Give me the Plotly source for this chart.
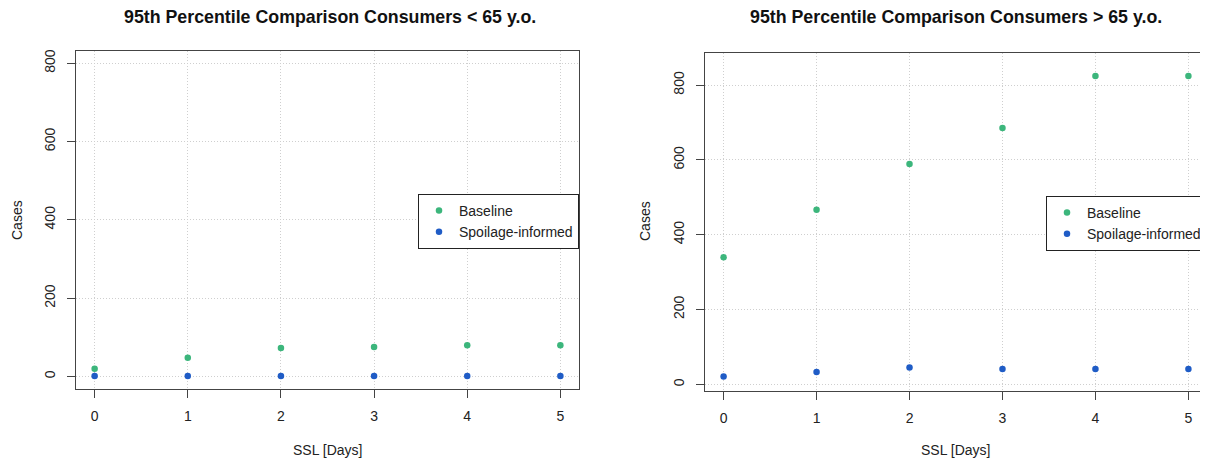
import plotly.graph_objects as go

# ---- data ----
ssl_days = [0, 1, 2, 3, 4, 5]
under65_baseline = [20, 48, 73, 75, 80, 80]
under65_spoilage = [1, 1, 1, 1, 1, 1]
over65_baseline = [340, 467, 589, 685, 824, 824]
over65_spoilage = [21, 33, 45, 41, 41, 41]
y_ticks = [0, 200, 400, 600, 800]
series_names = ["Baseline", "Spoilage-informed"]
titles = ["95th Percentile Comparison Consumers < 65 y.o.",
          "95th Percentile Comparison Consumers > 65 y.o."]

GREEN = "#3CB67C"
BLUE = "#1F5CC6"
FONT = "Liberation Sans, Arial, sans-serif"
OFF = 8  # page body margin of the html page
W, H = 1208 - OFF, 463 - OFF

fig = go.Figure()

def add_pair(xaxis, yaxis, base, spoil, legend):
    fig.add_trace(go.Scatter(x=ssl_days, y=base, mode="markers", name=series_names[0],
                             marker=dict(color=GREEN, size=6.5), xaxis=xaxis, yaxis=yaxis,
                             legend=legend))
    fig.add_trace(go.Scatter(x=ssl_days, y=spoil, mode="markers", name=series_names[1],
                             marker=dict(color=BLUE, size=6.5), xaxis=xaxis, yaxis=yaxis,
                             legend=legend))

add_pair("x", "y", under65_baseline, under65_spoilage, "legend")
add_pair("x2", "y2", over65_baseline, over65_spoilage, "legend2")

def px_x(p):
    return (p - OFF) / W

def px_y(p):
    return 1 - (p - OFF) / H

axis_common = dict(
    showline=True, mirror=True, linecolor="#444", linewidth=1.3,
    ticks="outside", ticklen=8, tickcolor="#444", tickwidth=1.3,
    showgrid=True, gridcolor="#CFCFCF", griddash="1px,2px", gridwidth=1,
    zeroline=False, tickfont=dict(family=FONT, size=14, color="#222"),
    fixedrange=True, ticklabelstandoff=6,
)

fig.update_layout(
    width=W, height=H,
    margin=dict(l=0, r=0, t=0, b=0),
    paper_bgcolor="white", plot_bgcolor="white",
    font=dict(family=FONT, size=14, color="#222"),
    xaxis=dict(domain=[px_x(76), px_x(579)], range=[-0.2, 5.2], tickvals=ssl_days,
               anchor="y", **axis_common),
    yaxis=dict(domain=[px_y(389), px_y(50.7)], range=[-32, 832], tickvals=y_ticks,
               tickangle=-90, anchor="x", **axis_common),
    xaxis2=dict(domain=[px_x(705), px_x(1207)], range=[-0.2, 5.2], tickvals=ssl_days,
                anchor="y2", **axis_common),
    yaxis2=dict(domain=[px_y(390.7), px_y(52.7)], range=[-17, 886.5], tickvals=y_ticks,
                tickangle=-90, anchor="x2", **axis_common),
    legend=dict(x=px_x(579), y=px_y(194), xanchor="right", yanchor="top",
                bgcolor="white", bordercolor="#222", borderwidth=1,
                font=dict(family=FONT, size=14, color="#222"), itemwidth=30),
    legend2=dict(x=px_x(1207), y=px_y(196), xanchor="right", yanchor="top",
                 bgcolor="white", bordercolor="#222", borderwidth=1,
                 font=dict(family=FONT, size=14, color="#222"), itemwidth=30),
)

annotations = []
for cx, txt in [(329.5, titles[0]), (956, titles[1])]:
    annotations.append(dict(x=px_x(cx), y=px_y(17), xref="paper", yref="paper",
                            text="<b>" + txt + "</b>", showarrow=False,
                            xanchor="center", yanchor="middle",
                            font=dict(family=FONT, size=17.8, color="#111")))
for cx in [327.5, 956]:
    annotations.append(dict(x=px_x(cx), y=px_y(450), xref="paper", yref="paper",
                            text="SSL [Days]", showarrow=False,
                            xanchor="center", yanchor="middle",
                            font=dict(family=FONT, size=14, color="#222")))
for cx, cy in [(17, 220), (645, 221)]:
    annotations.append(dict(x=px_x(cx), y=px_y(cy), xref="paper", yref="paper",
                            text="Cases", showarrow=False, textangle=-90,
                            xanchor="center", yanchor="middle",
                            font=dict(family=FONT, size=14, color="#222")))
fig.update_layout(annotations=annotations)

fig.write_html("out.html")
